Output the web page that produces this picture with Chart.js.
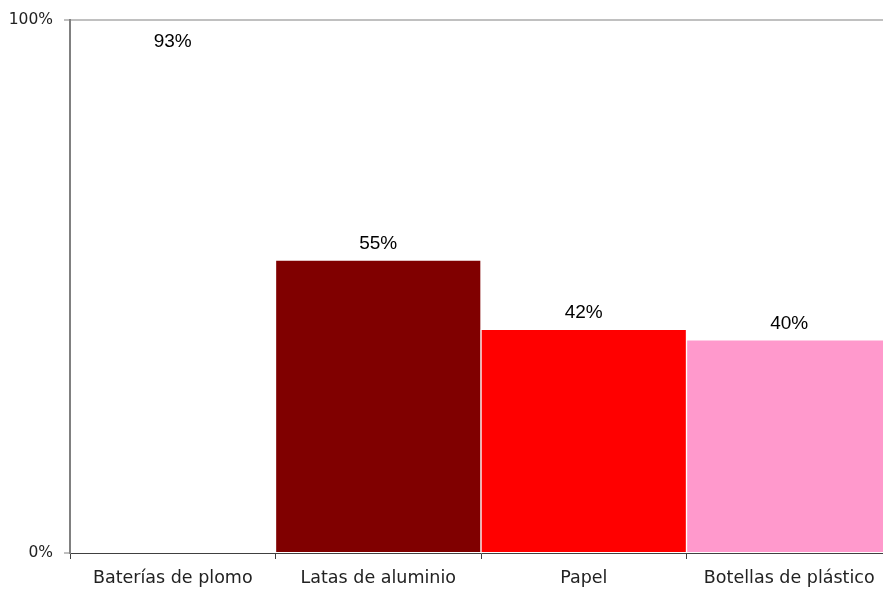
<!DOCTYPE html>
<html>
<head>
<meta charset="utf-8">
<script src="https://cdn.jsdelivr.net/npm/chart.js@4/dist/chart.umd.min.js"></script>
<style>
  html, body { margin: 0; padding: 0; background: #fff; overflow: hidden; width: 883px; height: 597px; }
  canvas { display: block; }
</style>
</head>
<body>
<canvas id="c" width="892" height="597"></canvas>
<script>
// Recycling rates by material
const categories = ['Baterías de plomo', 'Latas de aluminio', 'Papel', 'Botellas de plástico'];
const rates = [93, 55, 42, 40];
const barColors = ['#ffffff', '#800000', '#ff0000', '#ff99cc'];
const yTicks = [0, 100];

const TICK_FONT = '"DejaVu Sans", sans-serif';
const VALUE_FONT = '"Liberation Sans", Arial, sans-serif';

// Writes the percentage above each bar
const valueLabels = {
  id: 'valueLabels',
  afterDatasetsDraw(chart) {
    const ctx = chart.ctx;
    const meta = chart.getDatasetMeta(0);
    ctx.save();
    ctx.font = '19px ' + VALUE_FONT;
    ctx.fillStyle = '#000';
    ctx.textAlign = 'center';
    ctx.textBaseline = 'alphabetic';
    meta.data.forEach((bar, i) => {
      ctx.fillText(rates[i] + '%', bar.x, bar.y - 11);
    });
    ctx.restore();
  }
};

new Chart(document.getElementById('c'), {
  type: 'bar',
  data: {
    labels: categories,
    datasets: [{
      data: rates,
      backgroundColor: barColors,
      borderColor: '#ffffff',
      borderWidth: 1,
      barPercentage: 1,
      categoryPercentage: 1
    }]
  },
  options: {
    responsive: false,
    animation: false,
    layout: { padding: { top: 18, left: 0, right: 0, bottom: 0 } },
    plugins: {
      legend: { display: false },
      tooltip: { enabled: false }
    },
    scales: {
      x: {
        offset: true,
        grid: {
          z: 1,
          offset: true,
          drawOnChartArea: false,
          tickLength: 6,
          tickColor: '#404040',
          tickWidth: 1
        },
        border: { z: 1, color: '#404040', width: 1 },
        ticks: {
          autoSkip: false,
          maxRotation: 0,
          padding: 9,
          color: '#222',
          font: { family: TICK_FONT, size: 17.5 }
        },
        afterFit(scale) { scale.height = 44; }
      },
      y: {
        min: 0,
        max: 100,
        afterBuildTicks(scale) { scale.ticks = yTicks.map(v => ({ value: v })); },
        grid: {
          z: 1,
          color: ctx => (ctx.tick && ctx.tick.value === 100) ? '#c0c0c0' : 'rgba(0,0,0,0)',
          lineWidth: 2,
          tickLength: 6,
          tickColor: '#808080',
          tickWidth: 1
        },
        border: { z: 1, color: '#808080', width: 2 },
        ticks: {
          padding: 11,
          color: '#222',
          font: { family: TICK_FONT, size: 15.5 },
          callback: v => v + '%'
        },
        afterFit(scale) { scale.width = 70; }
      }
    }
  },
  plugins: [valueLabels]
});
</script>
</body>
</html>
